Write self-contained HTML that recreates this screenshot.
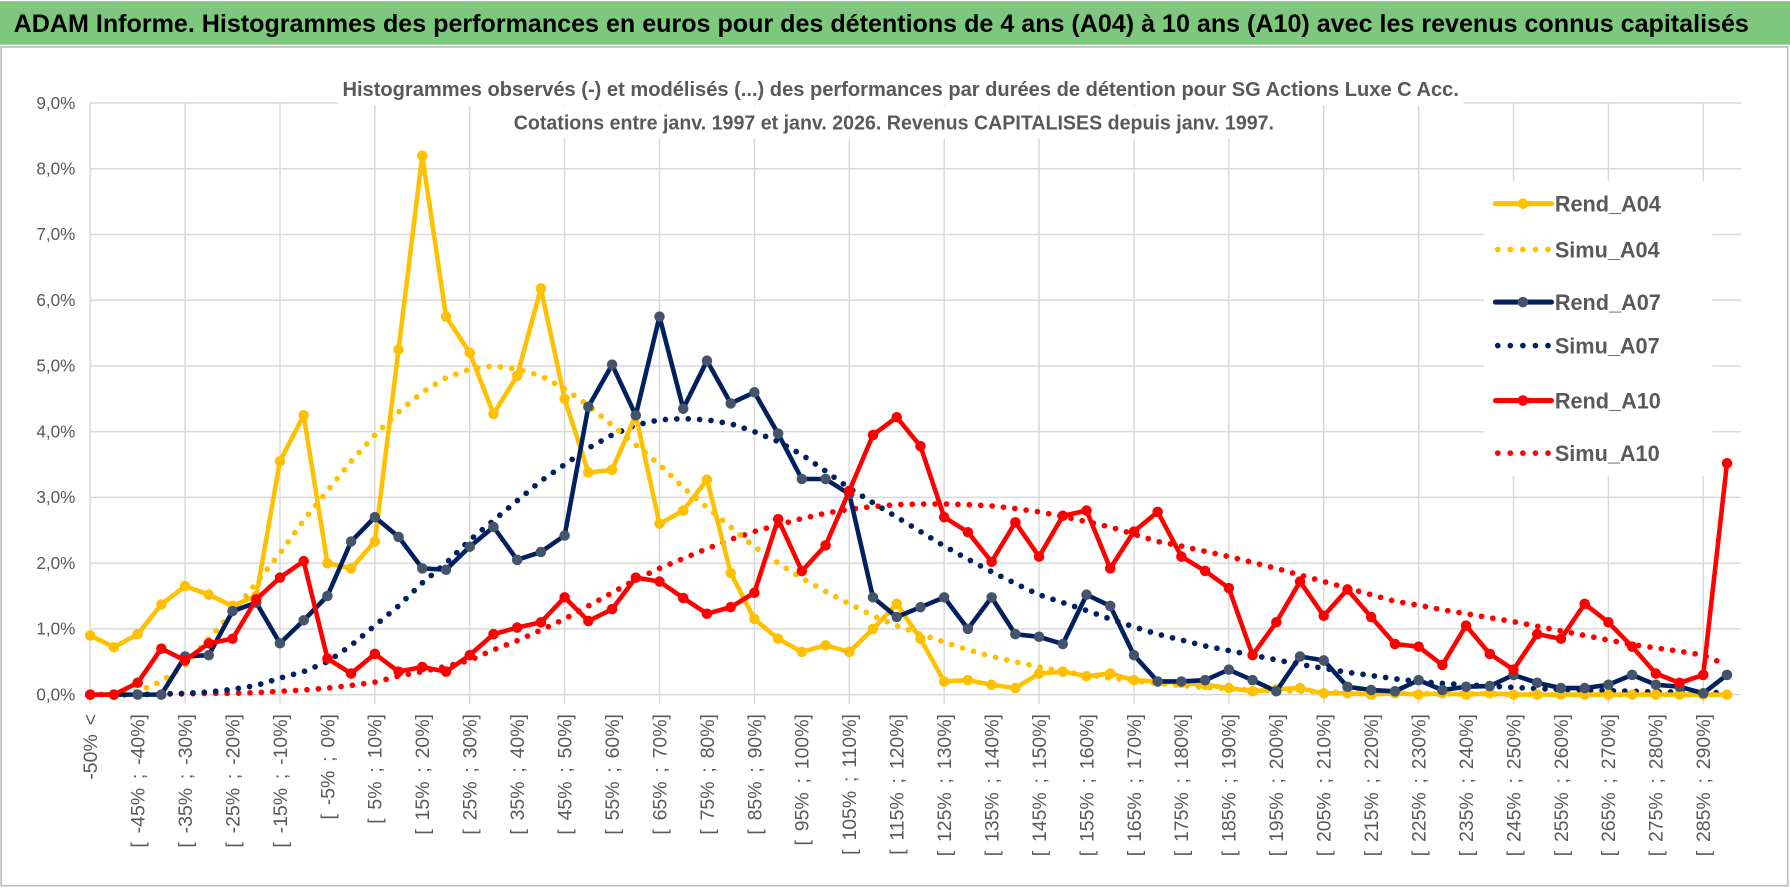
<!DOCTYPE html>
<html><head><meta charset="utf-8"><style>
html,body{margin:0;padding:0;background:#fff;}
svg{display:block;font-family:"Liberation Sans",sans-serif;}
</style></head><body>
<svg id="chart" width="1790" height="888" viewBox="0 0 1568 776" preserveAspectRatio="none" xmlns="http://www.w3.org/2000/svg">
<rect x="0" y="0" width="1568" height="776" fill="#fff"/>
<rect x="0" y="1" width="1568" height="38" fill="#7ec87e"/>
<text x="12" y="28" font-size="22" font-weight="bold" fill="#000" textLength="1520" lengthAdjust="spacingAndGlyphs">ADAM Informe. Histogrammes des performances en euros pour des détentions de 4 ans (A04) à 10 ans (A10) avec les revenus connus capitalisés</text>
<rect x="1" y="41" width="1565" height="733" fill="none" stroke="#bfbfbf" stroke-width="1.5"/>
<g id="grid"></g>
<g id="series"></g>
<rect x="296" y="64" width="986" height="28" fill="#fff"/>
<rect x="446" y="93" width="676" height="28" fill="#fff"/>
<text x="789" y="84" text-anchor="middle" font-size="17.5" font-weight="bold" fill="#595959" textLength="978" lengthAdjust="spacingAndGlyphs">Histogrammes observés (-) et modélisés (...) des performances par durées de détention pour SG Actions Luxe C Acc.</text>
<text x="783" y="113" text-anchor="middle" font-size="17.5" font-weight="bold" fill="#595959" textLength="666" lengthAdjust="spacingAndGlyphs">Cotations entre janv. 1997 et janv. 2026. Revenus CAPITALISES depuis janv. 1997.</text>
<g id="legend"></g>
</svg>
<script>
const categories = ["-50% <"];
for (let k = 1; k < 70; k++) { const a = -50 + 5 * (k - 1); categories.push("[ " + a + "% ; " + (a + 5) + "%]"); }
const yTicks = [0,1,2,3,4,5,6,7,8,9];
const rendA04 = [0.9,0.72,0.92,1.37,1.65,1.52,1.35,1.5,3.55,4.25, 2.0,1.92,2.33,5.25,8.2,5.75,5.2,4.27,4.85,6.18, 4.5,3.38,3.42,4.25,2.6,2.8,3.27,1.85,1.15,0.85, 0.65,0.75,0.65,1.0,1.38,0.85,0.2,0.22,0.15,0.1, 0.32,0.35,0.28,0.32,0.22,0.2,0.18,0.15,0.1,0.05, 0.08,0.1,0.02,0.02,0,0.02,0,0.02,0,0.02, 0,0,0,0,0,0,0,0,0,0];
const simuA04 = [0,0,0.05,0.2,0.45,0.85,1.25,1.7,2.15,2.65, 3.1,3.55,3.95,4.3,4.6,4.82,4.95,5.0,4.95,4.85, 4.65,4.4,4.1,3.8,3.5,3.15,2.85,2.55,2.25,2.0, 1.77,1.57,1.38,1.2,1.05,0.92,0.8,0.68,0.58,0.5, 0.42,0.35,0.3,0.25,0.21,0.17,0.14,0.11,0.09,0.07, 0.06,0.05,0.04,0.03,0.03,0.02,0.02,0.01,0.01,0.01, 0,0,0,0,0,0,0,0,0,0];
const rendA07 = [0,0,0,0,0.58,0.6,1.27,1.4,0.78,1.13, 1.5,2.33,2.7,2.4,1.92,1.9,2.25,2.55,2.05,2.17, 2.42,4.38,5.02,4.25,5.75,4.35,5.08,4.43,4.6,3.97, 3.28,3.28,3.05,1.48,1.18,1.33,1.48,1.0,1.48,0.92, 0.88,0.77,1.52,1.35,0.6,0.2,0.2,0.22,0.38,0.22, 0.05,0.58,0.52,0.12,0.07,0.05,0.22,0.07,0.12,0.13, 0.3,0.18,0.1,0.1,0.15,0.3,0.15,0.12,0.02,0.3];
const simuA07 = [0,0,0,0.01,0.02,0.04,0.08,0.14,0.25,0.35, 0.5,0.75,1.05,1.35,1.7,2.0,2.35,2.65,2.95,3.25, 3.5,3.75,3.95,4.1,4.18,4.2,4.18,4.12,4.0,3.85, 3.65,3.4,3.14,2.92,2.7,2.48,2.26,2.06,1.87,1.69, 1.52,1.4,1.28,1.15,1.03,0.92,0.83,0.74,0.67,0.6, 0.53,0.46,0.4,0.34,0.29,0.24,0.2,0.17,0.15,0.13, 0.11,0.09,0.08,0.07,0.06,0.05,0.04,0.04,0.03,0.03];
const rendA10 = [0,0,0.18,0.7,0.52,0.78,0.85,1.45,1.78,2.03, 0.55,0.32,0.62,0.35,0.42,0.35,0.6,0.92,1.02,1.1, 1.48,1.12,1.3,1.78,1.72,1.47,1.23,1.33,1.55,2.67, 1.88,2.27,3.1,3.95,4.22,3.78,2.7,2.47,2.02,2.62, 2.1,2.72,2.8,1.92,2.48,2.78,2.1,1.88,1.62,0.6, 1.1,1.72,1.2,1.6,1.18,0.77,0.73,0.45,1.05,0.62, 0.38,0.92,0.85,1.38,1.1,0.73,0.32,0.18,0.3,3.52];
const simuA10 = [0,0,0,0.01,0.01,0.02,0.02,0.03,0.05,0.07, 0.1,0.14,0.19,0.28,0.35,0.43,0.52,0.68,0.82,0.98, 1.15,1.35,1.55,1.75,1.92,2.07,2.22,2.36,2.48,2.58, 2.68,2.76,2.82,2.86,2.89,2.9,2.9,2.89,2.87,2.83, 2.78,2.71,2.63,2.55,2.44,2.33,2.26,2.18,2.1,2.01, 1.92,1.82,1.72,1.62,1.52,1.42,1.36,1.29,1.23,1.17, 1.11,1.04,0.97,0.9,0.83,0.76,0.71,0.66,0.6,0.45];

const NS = "http://www.w3.org/2000/svg";
const X0 = 79, DX = 20.78, Y0 = 607, DY = 57.44, XR = 1525;
function xPos(i) { return X0 + i * DX; }
function yPos(v) { return Y0 - v * DY; }
function mk(tag, attrs, parent) { const e = document.createElementNS(NS, tag); for (const k in attrs) e.setAttribute(k, attrs[k]); parent.appendChild(e); return e; }

const grid = document.getElementById("grid");
yTicks.forEach(t => {
  const l = mk("line", {x1: X0, x2: XR, y1: yPos(t), y2: yPos(t), stroke: "#d9d9d9", "stroke-width": 1.3}, grid);
  
  
  const tx = mk("text", {x: 66, y: yPos(t) + 5, "text-anchor": "end", "font-size": 15, fill: "#595959"}, grid);
  
  
  tx.textContent = t.toFixed(1).replace(".", ",") + "%";
});
categories.forEach((c, i) => {
  if (i % 4 === 0) {
    const l = mk("line", {x1: xPos(i), x2: xPos(i), y1: yPos(9), y2: Y0 + 8, stroke: "#d9d9d9", "stroke-width": 1.3}, grid);
    
    
  }
  if (i % 2 === 0) {
    const x = xPos(i) + 6, y = 624;
    const tx = mk("text", {x: x, y: y, "text-anchor": "end", "font-size": 17, fill: "#595959", "word-spacing": "3", transform: "rotate(-90 " + x + " " + y + ")"}, grid);
    
    
    tx.textContent = c;
  }
});

const seriesG = document.getElementById("series");
const defs = [
  {name: "Simu_A10", data: simuA10, color: "#ff0000", dotted: true},
  {name: "Simu_A07", data: simuA07, color: "#002060", dotted: true},
  {name: "Simu_A04", data: simuA04, color: "#ffc000", dotted: true},
  {name: "Rend_A04", data: rendA04, color: "#ffc000", marker: "#ffc000"},
  {name: "Rend_A07", data: rendA07, color: "#002060", marker: "#44546a"},
  {name: "Rend_A10", data: rendA10, color: "#ff0000", marker: "#ff0000"}
];
defs.forEach(s => {
  const pts = s.data.map((v, i) => xPos(i).toFixed(1) + "," + yPos(v).toFixed(1)).join(" ");
  const attrs = {points: pts, fill: "none", stroke: s.color, "stroke-linejoin": "round", "stroke-linecap": "round"};
  if (s.dotted) { attrs["stroke-width"] = 5; attrs["stroke-dasharray"] = "0 10"; }
  else attrs["stroke-width"] = 4;
  const pl = mk("polyline", attrs, seriesG);
  
  
  if (!s.dotted) {
    s.data.forEach((v, i) => {
      const c = mk("circle", {cx: xPos(i), cy: yPos(v), r: 4.6, fill: s.marker}, seriesG);
      
      
    });
  }
});

const leg = document.getElementById("legend");
mk("rect", {x: 1300, y: 158, width: 200, height: 258, fill: "#fff"}, leg);
const legItems = [
  {name: "Rend_A04", color: "#ffc000", marker: "#ffc000", y: 178},
  {name: "Simu_A04", color: "#ffc000", y: 218},
  {name: "Rend_A07", color: "#002060", marker: "#44546a", y: 264},
  {name: "Simu_A07", color: "#002060", y: 302},
  {name: "Rend_A10", color: "#ff0000", marker: "#ff0000", y: 350},
  {name: "Simu_A10", color: "#ff0000", y: 396}
];
legItems.forEach(it => {
  const g = mk("g", {}, leg);
  
  
  if (it.marker) {
    mk("line", {x1: 1310, x2: 1359, y1: it.y, y2: it.y, stroke: it.color, "stroke-width": 4.5, "stroke-linecap": "round"}, g);
    mk("circle", {cx: 1334, cy: it.y, r: 4.6, fill: it.marker}, g);
  } else {
    mk("line", {x1: 1312, x2: 1359, y1: it.y, y2: it.y, stroke: it.color, "stroke-width": 5, "stroke-linecap": "round", "stroke-dasharray": "0 11"}, g);
  }
  const t = mk("text", {x: 1362, y: it.y + 7, "font-size": 19, "font-weight": "bold", fill: "#595959"}, g);
  t.textContent = it.name;
});
</script>
</body></html>
